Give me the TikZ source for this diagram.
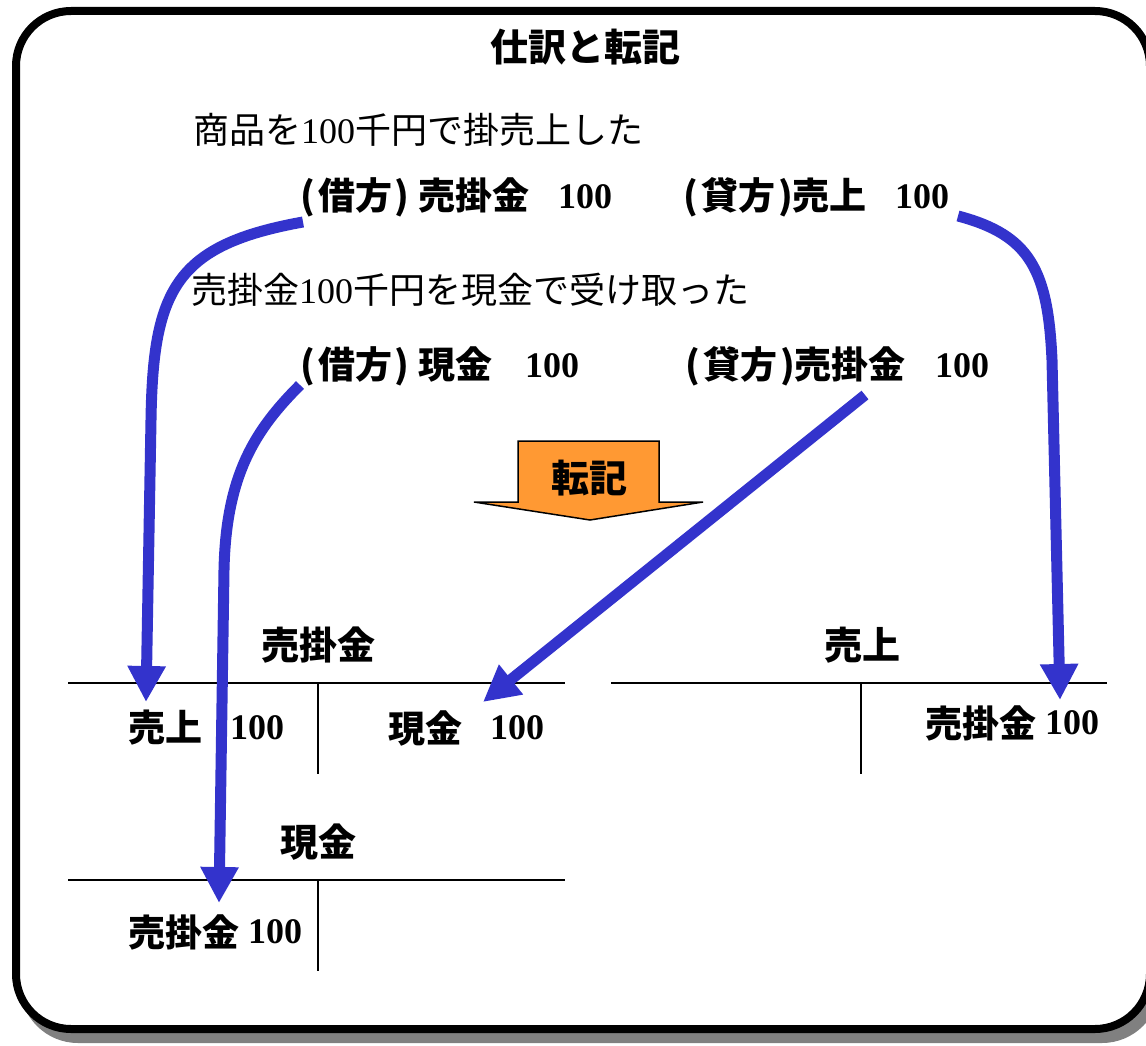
\documentclass[tikz,border=0pt]{standalone}
\usepackage{fontspec}
\setmainfont{Liberation Serif}
\newfontfamily\jp{Noto Sans CJK JP}
\usetikzlibrary{arrows.meta}
\definecolor{arrowblue}{RGB}{51,51,204}
\definecolor{postorange}{RGB}{255,153,51}
\definecolor{shadowgray}{RGB}{128,128,128}
\newcommand{\lp}{(\kern3pt}
\newcommand{\rp}{\kern3pt)}
\begin{document}
\begin{tikzpicture}[x=1pt,y=-1pt,
  txt/.style={inner sep=0pt, anchor=west, font=\jp\fontsize{36}{40}\selectfont},
  btxt/.style={inner sep=0pt, anchor=west, font=\jp\bfseries\fontsize{37}{40}\selectfont},
  bnum/.style={inner sep=0pt, anchor=west, font=\rmfamily\bfseries\fontsize{36}{40}\selectfont},
  ttl/.style={inner sep=0pt, font=\jp\bfseries\fontsize{38}{40}\selectfont},
  flow/.style={draw=arrowblue, line width=11pt, -{Triangle[length=36pt,width=36pt]}},
  tline/.style={line width=2pt}]
\useasboundingbox (0,0) rectangle (1146,1046);
% frame with shadow
\fill[shadowgray, rounded corners=58pt] (20,17) rectangle (1160,1043);
\draw[line width=8pt, fill=white, rounded corners=55pt] (16,11) rectangle (1150,1029);
% title
\node[ttl] (title) at (585,47) {仕訳と転記};
% transactions
\node[txt] (l1) at (193,130) {商品を{\rmfamily 100}千円で掛売上した};
\node[btxt] (d1) at (300,197) {\lp 借方\rp\ 売掛金};
\node[bnum] (d1n) at (558,197) {100};
\node[btxt] (c1) at (683,197) {\lp 貸方\rp 売上};
\node[bnum] (c1n) at (895,197) {100};
\node[txt] (l2) at (191,290) {売掛金{\rmfamily 100}千円を現金で受け取った};
\node[btxt] (d2) at (300,366) {\lp 借方\rp\ 現金};
\node[bnum] (d2n) at (525,366) {100};
\node[btxt] (c2) at (685,366) {\lp 貸方\rp 売掛金};
\node[bnum] (c2n) at (935,366) {100};
% posting arrow
\filldraw[fill=postorange, draw=black, line width=1.5pt, line join=miter]
  (518,441) -- (659,441) -- (659,502) -- (703,502) -- (590,520) -- (474,502) -- (518,502) -- cycle;
\node[ttl] (post) at (589,478) {転記};
% T-account: 売掛金
\node[ttl] (tuk) at (318,645) {売掛金};
\coordinate (tukL) at (68,683);
\coordinate (tukR) at (565,683);
\coordinate (tukT) at (318,683);
\coordinate (tukB) at (318,774);
\draw[tline] (tukL) -- (tukR);
\draw[tline] (tukT) -- (tukB);
\node[btxt] (e1) at (128,728) {売上};
\node[bnum] (e1n) at (230,728) {100};
\node[btxt] (e2) at (388,728) {現金};
\node[bnum] (e2n) at (490,728) {100};
% T-account: 売上
\node[ttl] (tua) at (862,645) {売上};
\coordinate (tuaL) at (611,683);
\coordinate (tuaR) at (1107,683);
\coordinate (tuaT) at (861,683);
\coordinate (tuaB) at (861,774);
\draw[tline] (tuaL) -- (tuaR);
\draw[tline] (tuaT) -- (tuaB);
\node[btxt] (e3) at (925,723) {売掛金};
\node[bnum] (e3n) at (1045,723) {100};
% T-account: 現金
\node[ttl] (tgk) at (318,842) {現金};
\coordinate (tgkL) at (68,880);
\coordinate (tgkR) at (565,880);
\coordinate (tgkT) at (318,880);
\coordinate (tgkB) at (318,971);
\draw[tline] (tgkL) -- (tgkR);
\draw[tline] (tgkT) -- (tgkB);
\node[btxt] (e4) at (128,932) {売掛金};
\node[bnum] (e4n) at (248,932) {100};
% flow arrows
\coordinate (a1s) at (303,222);
\coordinate (a1m) at (151,420);
\coordinate (a1e) at (146,702);
\draw[flow] (a1s) .. controls (175,245) and (153,290) .. (a1m) -- (a1e);
\coordinate (a2s) at (958,216);
\coordinate (a2m) at (1052,360);
\coordinate (a2e) at (1060,700);
\draw[flow] (a2s) .. controls (1030,235) and (1048,270) .. (a2m) -- (a2e);
\coordinate (a3s) at (300,385);
\coordinate (a3m) at (224,570);
\coordinate (a3e) at (219,903);
\draw[flow] (a3s) .. controls (255,430) and (226,475) .. (a3m) -- (a3e);
\coordinate (a4s) at (865,395);
\coordinate (a4e) at (483,702);
\draw[flow] (a4s) -- (a4e);
\end{tikzpicture}
\end{document}
